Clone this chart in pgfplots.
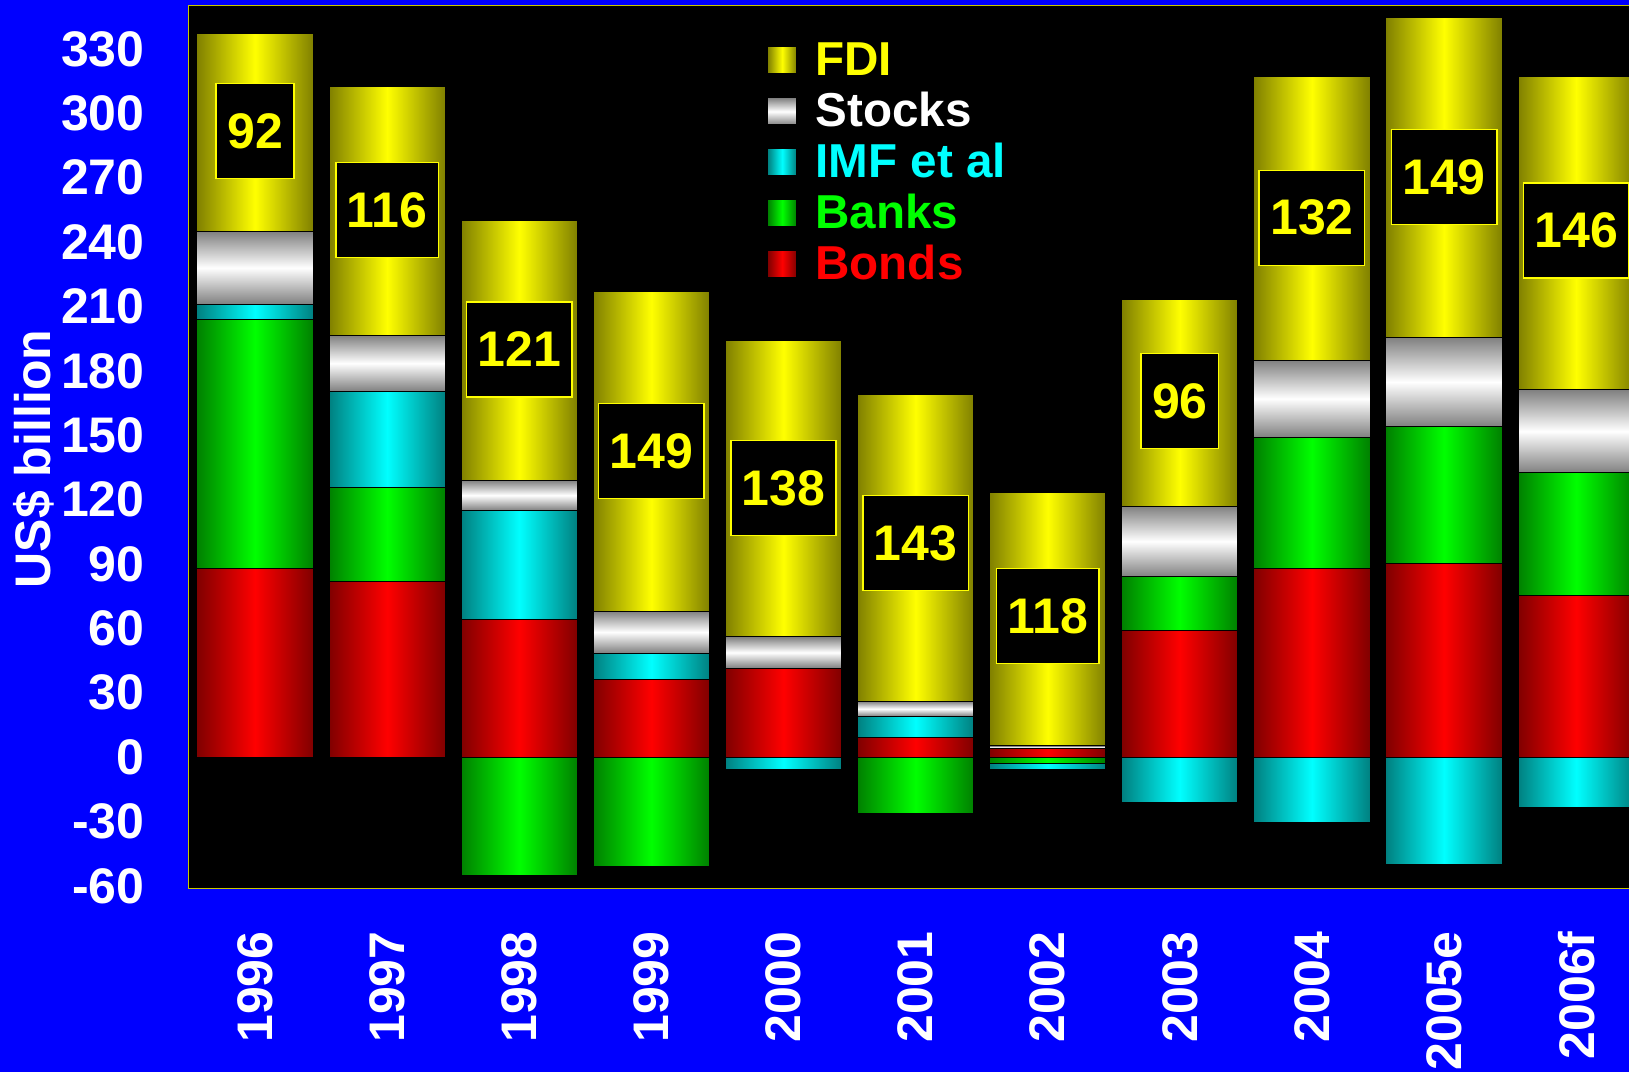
\documentclass[border=0pt]{standalone}
\usepackage{fontspec}
\setmainfont{Liberation Sans}
\usepackage{pgfplots}
\usepackage{pgfplotstable}
\pgfplotsset{compat=1.18}
\definecolor{bgblue}{RGB}{0,0,255}
\definecolor{fdiY}{RGB}{255,255,0}
\definecolor{fdiD}{RGB}{128,128,0}
\definecolor{bondR}{RGB}{255,0,0}
\definecolor{bondD}{RGB}{128,0,0}
\definecolor{bankG}{RGB}{0,255,0}
\definecolor{bankD}{RGB}{0,128,0}
\definecolor{imfC}{RGB}{0,255,255}
\definecolor{imfD}{RGB}{0,128,128}
\definecolor{stkD}{RGB}{128,128,128}
\definecolor{frameY}{RGB}{200,200,0}
% positive parts stack up from 0 (Bonds, Banks, IMF, Stocks, FDI); negative parts stack down from 0
\pgfplotstableread{
X  Bonds BanksP IMFP Stocks FDI BanksN IMFN
0  88    116    7    34     92  0      0
1  82    43.5   45   26     116 0      0
2  64    0      51   14     121 -55    0
3  36    0      12.5 19.5   149 -51    0
4  41.5  0      0    14.5   138 0      -6
5  9     0      10   7      143 -26.5  0
6  4     0      0    1.2    118 -3     -3
7  59    25     0    33     96  0      -21
8  88    61     0    36     132 0      -30.5
9  90    64     0    41.6   149 0      -50
10 75.5  57     0    38.7   146 0      -23.7
}\datatable
\pgfplotsset{
  base/.style={scale only axis, width=720pt, height=441pt,
    xmin=-0.5, xmax=10.4, ymin=-61, ymax=350, at={(0pt,0pt)}, anchor=south west},
  seg/.style={draw=black, line width=0.5pt},
  fdi/.style={seg, left color=fdiD, right color=fdiD, middle color=fdiY},
  stk/.style={seg, top color=stkD, bottom color=stkD, middle color=white},
  imf/.style={seg, left color=imfD, right color=imfD, middle color=imfC},
  bank/.style={seg, left color=bankD, right color=bankD, middle color=bankG},
  bond/.style={seg, left color=bondD, right color=bondD, middle color=bondR},
}
\begin{document}
\begin{tikzpicture}
\fill[bgblue] (-94.5pt,-92pt) rectangle (720pt,444pt);
% frame, ticks, labels, legend
\begin{axis}[base,
  axis background/.style={fill=black},
  axis line style={draw=frameY, line width=0.5pt},
  xtick={0,1,2,3,4,5,6,7,8,9,10},
  xticklabels={1996,1997,1998,1999,2000,2001,2002,2003,2004,2005e,2006f},
  ytick={-60,-30,0,30,60,90,120,150,180,210,240,270,300,330},
  yticklabels={-60,-30,0,30,60,90,120,150,180,210,240,270,300,330},
  major tick length=0pt,
  tick label style={font=\fontsize{25}{30}\selectfont\bfseries, text=white},
  yticklabel style={inner sep=0pt, anchor=east, xshift=-22pt},
  xticklabel style={inner sep=0pt, yshift=-21.5pt, rotate=90, anchor=east},
  ylabel={US\$ billion},
  ylabel style={font=\fontsize{25}{30}\selectfont\bfseries, text=white,
    at={(axis description cs:-0.1076,0.4864)}, anchor=center},
  legend style={at={(axis description cs:0.4014,0.9626)}, anchor=north west,
    draw=none, fill=none, inner sep=0pt, row sep=0pt, column sep=9.2pt,
    font=\fontsize{23.8}{28}\selectfont\bfseries,
    nodes={inner sep=0pt, text height=18pt, text depth=7.5pt}},
  legend cell align=left,
  legend image code/.code={\path[#1] (0pt,-4.55pt) rectangle (14.3pt,8.95pt);},
]
\addlegendimage{fdi}
\addlegendentry{\textcolor{fdiY}{FDI}}
\addlegendimage{stk}
\addlegendentry{\textcolor{white}{Stocks}}
\addlegendimage{imf}
\addlegendentry{\textcolor{imfC}{IMF et al}}
\addlegendimage{bank}
\addlegendentry{\textcolor{bankG}{Banks}}
\addlegendimage{bond}
\addlegendentry{\textcolor{bondR}{Bonds}}
\end{axis}
% one stacked bar per year, so that each segment is shaded on its own
\foreach \i in {0,...,10} {
  \pgfmathsetmacro\lo{\i-0.3}
  \pgfmathsetmacro\hi{\i+0.3}
  \begin{axis}[base, ybar stacked, bar width=0.88, hide axis,
    restrict x to domain=\lo:\hi]
    \addplot[bond] table[x=X, y=Bonds] {\datatable};
    \addplot[bank] table[x=X, y=BanksP] {\datatable};
    \addplot[imf]  table[x=X, y=IMFP] {\datatable};
    \addplot[stk]  table[x=X, y=Stocks] {\datatable};
    \addplot[fdi]  table[x=X, y=FDI] {\datatable};
  \end{axis}
  \begin{axis}[base, ybar stacked, bar width=0.88, hide axis,
    restrict x to domain=\lo:\hi]
    \addplot[bank] table[x=X, y=BanksN] {\datatable};
    \addplot[imf]  table[x=X, y=IMFN] {\datatable};
  \end{axis}
}
% FDI value boxes
\begin{axis}[base, hide axis]
\addplot[draw=none, mark=none, nodes near coords, point meta=explicit symbolic,
  every node near coord/.append style={anchor=center, fill=black, draw=fdiY,
    line width=0.75pt, text=fdiY, font=\fontsize{25}{30}\selectfont\bfseries,
    inner xsep=5.5pt, inner ysep=0pt, minimum height=47.5pt}]
  coordinates {(0,291.7)[92] (1,255)[116] (2,190)[121] (3,142.7)[149] (4,125.3)[138]
   (5,99.7)[143] (6,65.8)[118] (7,166)[96] (8,251.3)[132] (9,270.4)[149] (10,245.3)[146]};
\end{axis}
\pgfresetboundingbox
\path[use as bounding box] (-94.5pt,-92pt) rectangle (720pt,444pt);
\end{tikzpicture}
\end{document}
